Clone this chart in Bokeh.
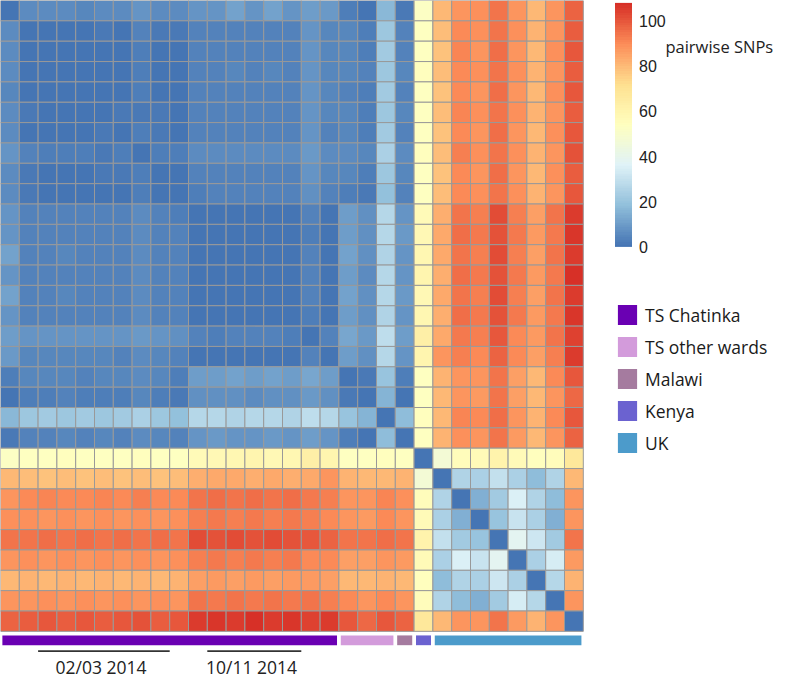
import numpy as np
from bokeh.plotting import figure
from bokeh.models import (ColumnDataSource, Range1d, LinearColorMapper, ColorBar,
                          FixedTicker, Legend, LegendItem, Label)
from bokeh.core.properties import value
from bokeh.embed import file_html
from bokeh.resources import INLINE

# ---------------- data (pairwise SNP distances, lower triangle) ----
snp_lower = [
    [],
    [6],
    [6, 1],
    [6, 1, 1],
    [5, 1, 1, 1],
    [6, 2, 1, 1, 1],
    [6, 1, 1, 1, 1, 2],
    [8, 4, 3, 3, 3, 2, 3],
    [6, 2, 1, 1, 1, 2, 2, 3],
    [6, 2, 1, 0, 1, 1, 1, 3, 1],
    [8, 4, 4, 4, 4, 4, 4, 6, 4, 3],
    [8, 4, 4, 4, 4, 4, 4, 6, 4, 4, 1],
    [11, 4, 4, 5, 4, 4, 4, 6, 4, 4, 1, 1],
    [8, 4, 4, 4, 4, 4, 4, 6, 4, 4, 1, 0, 1],
    [11, 4, 4, 5, 4, 4, 4, 6, 4, 4, 1, 1, 1, 1],
    [8, 4, 4, 4, 4, 4, 4, 6, 4, 4, 1, 1, 1, 1, 1],
    [10, 8, 8, 8, 8, 8, 8, 9, 8, 7, 4, 3, 4, 4, 4, 3],
    [9, 5, 5, 5, 5, 5, 4, 6, 5, 4, 1, 1, 1, 1, 1, 1, 4],
    [3, 5, 5, 5, 4, 5, 5, 6, 5, 3, 10, 10, 11, 10, 11, 10, 12, 10],
    [1, 3, 3, 4, 3, 3, 3, 5, 3, 2, 7, 7, 7, 6, 7, 7, 9, 7, 2],
    [17, 21, 22, 21, 22, 21, 22, 24, 21, 19, 26, 26, 25, 26, 26, 25, 29, 26, 20, 16],
    [2, 4, 4, 5, 4, 5, 4, 6, 5, 4, 8, 9, 8, 8, 9, 8, 10, 8, 3, 1, 18],
    [52, 53, 53, 54, 53, 53, 53, 54, 53, 53, 57, 58, 59, 60, 58, 59, 63, 60, 53, 53, 54, 53],
    [80, 79, 78, 79, 78, 79, 78, 79, 78, 79, 83, 84, 84, 83, 84, 83, 84, 88, 82, 80, 80, 81, 47],
    [88, 90, 91, 90, 90, 91, 90, 92, 90, 90, 95, 96, 95, 96, 95, 96, 93, 92, 88, 88, 91, 89, 56, 25],
    [89, 89, 88, 89, 88, 89, 88, 89, 88, 89, 92, 93, 92, 93, 92, 93, 92, 90, 88, 87, 90, 88, 57, 24, 15],
    [95, 95, 96, 95, 96, 95, 96, 94, 96, 95, 102, 101, 102, 101, 102, 101, 100, 98, 95, 94, 96, 94, 61, 30, 22, 20],
    [88, 89, 88, 89, 88, 89, 88, 89, 88, 89, 92, 93, 92, 93, 92, 93, 90, 90, 86, 86, 88, 87, 57, 24, 35, 31, 38],
    [80, 81, 80, 81, 80, 81, 80, 82, 80, 81, 86, 87, 86, 87, 86, 87, 87, 86, 80, 80, 81, 80, 54, 18, 25, 24, 32, 24],
    [88, 88, 89, 88, 89, 88, 89, 88, 89, 88, 94, 93, 94, 93, 94, 93, 94, 92, 90, 88, 90, 88, 56, 25, 18, 15, 22, 34, 26],
    [98, 99, 100, 99, 100, 99, 100, 101, 99, 100, 105, 106, 105, 108, 105, 106, 104, 105, 100, 97, 100, 98, 67, 80, 88, 88, 94, 87, 81, 88],
]

group_names = ["TS Chatinka", "TS other wards", "Malawi", "Kenya", "UK"]
group_sizes = [18, 3, 1, 1, 8]
group_colors = ["#6a00b3", "#d39bdb", "#a57b9f", "#6b62d0", "#4c9bcb"]

date_labels = ["02/03 2014", "10/11 2014"]
date_start = [2, 11]   # column edges
date_end = [9, 16]

cbar_ticks = [0, 20, 40, 60, 80, 100]
cbar_title = "pairwise SNPs"

# ---------------- build matrix ----------------
n = len(snp_lower)
mat = np.zeros((n, n))
for i, row in enumerate(snp_lower):
    for j, v in enumerate(row):
        mat[i, j] = v
        mat[j, i] = v

rr, cc = np.meshgrid(np.arange(n), np.arange(n), indexing="ij")
cells = ColumnDataSource(dict(x=cc.ravel() + 0.5, y=rr.ravel() + 0.5, v=mat.ravel()))

# palette: pheatmap default, rev(RdYlBu 7) ramped to 100
anchors = ["#4575B4", "#91BFDB", "#E0F3F8", "#FFFFBF", "#FEE090", "#FC8D59", "#D73027"]
argb = np.array([[int(h[k:k + 2], 16) for k in (1, 3, 5)] for h in anchors], float)
pos = np.linspace(0, 1, len(anchors))
tt = np.linspace(0, 1, 100)
palette = []
for t in tt:
    rgb = [np.interp(t, pos, argb[:, k]) for k in range(3)]
    palette.append("#%02x%02x%02x" % tuple(int(round(c)) for c in rgb))

mapper = LinearColorMapper(palette=palette, low=float(mat.min()), high=float(mat.max()))

# ---------------- layout geometry ----------------
CW, CH = 18.8, 20.35         # px per cell
W, H = 779, 683


def rx(px):  # reference pixel -> cell units
    return (px - 1) / 19.0


def ry(py):
    return (py - 1) / 20.8


p = figure(width=W, height=H, x_range=Range1d(0, W / CW), y_range=Range1d(H / CH, 0),
           output_backend="svg", toolbar_location=None, min_border=0,
           x_axis_location=None, y_axis_location=None)
p.grid.visible = False
p.outline_line_color = None
p.background_fill_color = "white"

p.rect("x", "y", 1, 1, source=cells, fill_color={"field": "v", "transform": mapper},
       line_color="#999999", line_width=1)

# annotation bars
starts = np.concatenate([[0], np.cumsum(group_sizes)[:-1]])
bars = ColumnDataSource(dict(x=starts + np.array(group_sizes) / 2.0,
                             w=np.array(group_sizes) - 0.2,
                             color=group_colors, name=group_names))
bar_r = p.rect("x", n + 0.44, "w", 0.48, source=bars, fill_color="color",
               line_color=None)

# date markers
dsrc = ColumnDataSource(dict(x0=date_start, x1=date_end,
                             xm=[(a + b) / 2 - 0.15 for a, b in zip(date_start, date_end)],
                             label=date_labels))
p.segment("x0", n + 0.97, "x1", n + 0.97, source=dsrc, line_color="#333333", line_width=1.6)
p.text("xm", n + 1.74, text="label", source=dsrc, text_align="center",
       text_baseline="middle", text_font=value("Open Sans"),
       text_font_size="17.5px", text_color="#222222")

# colour bar
cb = ColorBar(color_mapper=mapper, ticker=FixedTicker(ticks=cbar_ticks),
              orientation="vertical", width=17, height=244,
              location=(614.5, H - 246.4), padding=0, margin=0,
              bar_line_color=None, border_line_color=None,
              background_fill_alpha=0,
              major_tick_line_color=None, minor_tick_line_color=None,
              label_standoff=7,
              major_label_text_font="Liberation Sans",
              major_label_text_font_size="16px",
              major_label_text_color="#222222")
p.add_layout(cb)

p.add_layout(Label(x=rx(673), y=ry(48), text=cbar_title, text_baseline="middle",
                   text_font="Open Sans", text_font_size="16.5px", text_color="#222222"))

# legend (area swatches are inset 10% per side, so the glyph box is enlarged)
items = [LegendItem(label=nm, renderers=[bar_r], index=i) for i, nm in enumerate(group_names)]
leg = Legend(items=items, location=(615.0, 228.0), orientation="vertical",
             glyph_width=24, glyph_height=25, label_height=25, spacing=7,
             label_standoff=6, padding=0, margin=0,
             border_line_color=None, background_fill_alpha=0,
             label_text_font="Open Sans", label_text_font_size="17.5px",
             label_text_color="#1a1a1a")
p.add_layout(leg)

open("out.html", "w").write(file_html(p, INLINE))
